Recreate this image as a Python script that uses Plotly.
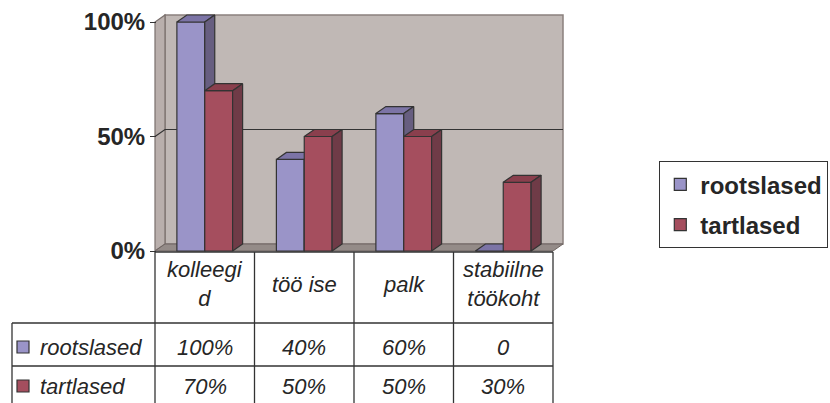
import plotly.graph_objects as go

# --- data -------------------------------------------------------------
categories = ["kolleegid", "töö ise", "palk", "stabiilne töökoht"]
header_labels = ["kolleegi<br>d", "töö ise", "palk", "stabiilne<br>töökoht"]
series_names = ["rootslased", "tartlased"]
rootslased = [100, 40, 60, 0]
tartlased = [70, 50, 50, 30]
y_tick_values = [0, 50, 100]
y_tick_labels = ["0%", "50%", "100%"]

# --- geometry / style ---------------------------------------------------
W, H = 830, 403
X0_PX, X_UNIT_PX = 155, 99.5      # left edge of category 0, pixels per category
Y0_PX, Y_UNIT_PX = 251, 2.29      # pixel row of 0 %, pixels per percent
DX = 10 / X_UNIT_PX               # depth offset in data units
DY = 7 / Y_UNIT_PX
BAR_W = 0.28
N = len(categories)

FONT = "Liberation Sans, Arial, sans-serif"
TXT = "#262626"
EDGE = "#333333"
colors = {
    "rootslased": dict(front="#9A94C8", top="#7C74A6", side="#675E80"),
    "tartlased": dict(front="#A54E5E", top="#8A3F4D", side="#6F3B47"),
}

def px(x):
    return x / W

def py(y):
    return 1 - y / H

fig = go.Figure()

def faces(values, x_left, name, xa, ya):
    c = colors[name]
    top_x, top_y, side_x, side_y = [], [], [], []
    for i, v in enumerate(values):
        x0 = i + 0.5 + x_left
        x1 = x0 + BAR_W
        top_x += [x0, x1, x1 + DX, x0 + DX, x0, None]
        top_y += [v, v, v + DY, v + DY, v, None]
        side_x += [x1, x1 + DX, x1 + DX, x1, x1, None]
        side_y += [0, DY, v + DY, v, 0, None]
    fig.add_trace(go.Bar(
        x=[i + 0.5 for i in range(N)], y=values, width=BAR_W, offset=x_left,
        name=name, legendgroup=name,
        marker=dict(color=c["front"], line=dict(color=EDGE, width=1.2)),
        xaxis=xa, yaxis=ya, hoverinfo="skip",
    ))
    for xs, ys, col in ((top_x, top_y, c["top"]), (side_x, side_y, c["side"])):
        fig.add_trace(go.Scatter(
            x=xs, y=ys, mode="lines", fill="toself", fillcolor=col,
            line=dict(color=EDGE, width=1.2), showlegend=False,
            hoverinfo="skip", xaxis=xa, yaxis=ya,
        ))

# rootslased on the base axes, tartlased on an overlaid pair so it paints in front
faces(rootslased, -BAR_W, "rootslased", "x", "y")
faces(tartlased, 0.0, "tartlased", "x2", "y2")

# --- walls, floor and gridline (beneath every trace) ------------------------
def path(points):
    return "M " + " L ".join(f"{x},{y}" for x, y in points) + " Z"

shapes = [
    dict(type="path", xref="x", yref="y", layer="below",
         path=path([(DX, DY), (N + DX, DY), (N + DX, 100 + DY), (DX, 100 + DY)]),
         fillcolor="#C0B8B5", line=dict(color="#8A807D", width=1.5)),
    dict(type="path", xref="x", yref="y", layer="below",
         path=path([(0, 0), (DX, DY), (DX, 100 + DY), (0, 100)]),
         fillcolor="#B9AFAC", line=dict(color="#7A706D", width=1.2)),
    dict(type="path", xref="x", yref="y", layer="below",
         path=path([(0, 0), (N, 0), (N + DX, DY), (DX, DY)]),
         fillcolor="#948B88", line=dict(color="#6F6562", width=1)),
    dict(type="path", xref="x", yref="y", layer="below",
         path=f"M 0,50 L {DX},{50 + DY} L {N + DX},{50 + DY}",
         line=dict(color=EDGE, width=1.2)),
]

# --- data table -----------------------------------------------------------
col_edges = [X0_PX + i * X_UNIT_PX for i in range(N + 1)]
row_edges = [252, 323, 366]
line_style = dict(color=EDGE, width=1.3)
shapes.append(dict(type="line", xref="paper", yref="paper",
                   x0=px(col_edges[0]), x1=px(col_edges[-1]),
                   y0=py(row_edges[0]), y1=py(row_edges[0]), line=line_style))
for r in row_edges[1:]:
    shapes.append(dict(type="line", xref="paper", yref="paper",
                       x0=px(12), x1=px(col_edges[-1]), y0=py(r), y1=py(r),
                       line=line_style))
for ce in col_edges:
    shapes.append(dict(type="line", xref="paper", yref="paper",
                       x0=px(ce), x1=px(ce), y0=py(row_edges[0]), y1=py(H + 5),
                       line=line_style))
shapes.append(dict(type="line", xref="paper", yref="paper",
                   x0=px(12), x1=px(12), y0=py(row_edges[1]), y1=py(H + 5),
                   line=line_style))

annotations = []
tfont = dict(family=FONT, size=22, color=TXT, style="italic")
for i, lab in enumerate(header_labels):
    annotations.append(dict(xref="paper", yref="paper", x=px(col_edges[i] + X_UNIT_PX / 2),
                            y=py(284), text=lab, showarrow=False, font=tfont,
                            xanchor="center", yanchor="middle"))

row_centres = [347, 386]
for name, vals, yc in zip(series_names, (rootslased, tartlased), row_centres):
    shapes.append(dict(type="rect", xref="paper", yref="paper",
                       x0=px(17), x1=px(29), y0=py(yc - 6), y1=py(yc + 6),
                       fillcolor=colors[name]["front"], line=dict(color=EDGE, width=1.2)))
    annotations.append(dict(xref="paper", yref="paper", x=px(38), y=py(yc),
                            text=name, showarrow=False, font=tfont,
                            xanchor="left", yanchor="middle"))
    for i, v in enumerate(vals):
        annotations.append(dict(xref="paper", yref="paper",
                                x=px(col_edges[i] + X_UNIT_PX / 2), y=py(yc),
                                text=f"{v}%" if v else "0", showarrow=False,
                                font=tfont, xanchor="center", yanchor="middle"))

x_range = [-X0_PX / X_UNIT_PX, (W - X0_PX) / X_UNIT_PX]
y_range = [(Y0_PX - H) / Y_UNIT_PX, Y0_PX / Y_UNIT_PX]
hidden_x = dict(range=x_range, domain=[0, 1], visible=False, fixedrange=True)

fig.update_layout(
    width=W, height=H, autosize=False,
    margin=dict(l=0, r=0, t=0, b=0, pad=0),
    paper_bgcolor="white", plot_bgcolor="rgba(0,0,0,0)",
    barmode="overlay", font=dict(family=FONT, color=TXT),
    xaxis=hidden_x,
    xaxis2=dict(hidden_x, overlaying="x"),
    yaxis=dict(range=y_range, domain=[0, 1], anchor="free", position=156 / W,
               tickvals=y_tick_values, ticktext=y_tick_labels,
               ticks="outside", ticklen=6, tickcolor=EDGE, tickwidth=1.2,
               showgrid=False, zeroline=False, showline=False,
               tickfont=dict(family=FONT, size=24, color=TXT, weight="bold")),
    yaxis2=dict(range=y_range, domain=[0, 1], overlaying="y", visible=False),
    legend=dict(x=px(659), y=py(161), xanchor="left", yanchor="top",
                bgcolor="white", bordercolor=EDGE, borderwidth=1.3,
                font=dict(family=FONT, size=24, color=TXT, weight="bold"),
                tracegroupgap=6, itemclick=False),
    shapes=shapes, annotations=annotations,
)

fig.write_html("out.html")
